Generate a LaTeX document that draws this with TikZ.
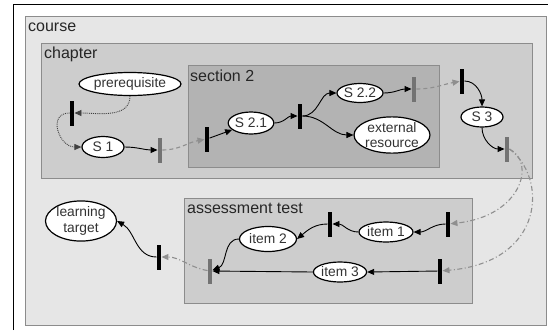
\documentclass[tikz,border=0pt]{standalone}
\usepackage{fontspec}
\setmainfont{Liberation Sans}
\usetikzlibrary{arrows.meta,shapes.geometric}
\definecolor{cframe}{HTML}{8C8C8C}
\definecolor{ccourse}{HTML}{E6E6E6}
\definecolor{cchap}{HTML}{CDCDCD}
\definecolor{csect}{HTML}{B3B3B3}
\definecolor{cgbar}{HTML}{737373}
\definecolor{cgline}{HTML}{8F8F8F}

\begin{document}
\begin{tikzpicture}[x=1pt,y=-1pt,
  area/.style={draw=cframe,line width=1pt},
  title/.style={anchor=base west,inner sep=0pt,font=\fontsize{16}{19}\selectfont,text=black!85},
  elem/.style={ellipse,draw,line width=1.2pt,fill=white,inner sep=0pt,align=center,
               font=\fontsize{13.8}{15.5}\selectfont,text=black!80},
  bar/.style={fill=black,inner sep=0pt,minimum width=4.5pt,minimum height=25pt},
  gbar/.style={bar,fill=cgbar},
  arr/.style={-{Triangle[length=7pt,width=6pt]},line width=0.9pt},
  dotarr/.style={arr,densely dotted,black!75},
  garr/.style={-{Triangle[length=7pt,width=6pt]},line width=1.1pt,cgline,
               dash pattern=on 4pt off 3pt},
  darr/.style={garr,dash pattern=on 5pt off 2.5pt on 1pt off 2.5pt}]
  \useasboundingbox (0,0) rectangle (551,330);
  \fill[white] (0,0) rectangle (551,330);
  \draw[line width=1pt] (13,330) -- (13,4) -- (548,4);

  % nested areas
  \draw[area,fill=ccourse] (25,16) rectangle (546,325);
  \draw[area,fill=cchap] (41,43) rectangle (532,178);
  \draw[area,fill=csect] (188,65) rectangle (439,167);
  \draw[area,fill=cchap] (184,198) rectangle (472,303);
  \node[title] (tcourse) at (28,31) {course};
  \node[title] (tchap) at (44,58) {chapter};
  \node[title] (tsect) at (190,81) {section 2};
  \node[title] (ttest) at (187,213) {assessment test};

  % learning objects
  \node[elem,minimum width=88pt,minimum height=23pt] (prereq) at (130,84) {prerequisite};
  \node[elem,minimum width=42pt,minimum height=21pt] (s1) at (103,147) {S 1};
  \node[elem,minimum width=42pt,minimum height=22pt] (s21) at (251,123) {S 2.1};
  \node[elem,minimum width=46pt,minimum height=19pt] (s22) at (360,93) {S 2.2};
  \node[elem,minimum width=70pt,minimum height=34pt] (extres) at (392,135) {external\\resource};
  \node[elem,minimum width=42pt,minimum height=20pt] (s3) at (482,117) {S 3};
  \node[elem,minimum width=71pt,minimum height=36pt] (target) at (81,221) {learning\\target};
  \node[elem,minimum width=57pt,minimum height=25pt] (item2) at (268,239) {item 2};
  \node[elem,minimum width=54pt,minimum height=20pt] (item1) at (386,232) {item 1};
  \node[elem,minimum width=50pt,minimum height=20pt] (item3) at (340,272) {item 3};

  % synchronisation bars
  \node[bar] (b0) at (72,113) {};
  \node[gbar] (g1) at (160,150) {};
  \node[bar] (b1) at (207,139) {};
  \node[bar] (b2) at (300,116) {};
  \node[gbar] (g2) at (414,89) {};
  \node[bar] (b3) at (462,81) {};
  \node[gbar] (g3) at (507,149) {};
  \node[bar] (b4) at (448,224) {};
  \node[bar] (b5) at (440,271) {};
  \node[bar] (b6) at (330,224) {};
  \node[gbar] (g4) at (210,271) {};
  \node[bar] (b7) at (159,257) {};

  % chapter flow
  \draw[dotarr] (prereq.south) to[out=-90,in=0] (b0);
  \draw[dotarr] (b0) to[out=180,in=180,looseness=1.6] (s1.west);
  \draw[arr] (s1.east) to[out=0,in=180] (g1);
  \draw[garr] (g1) to[out=0,in=190] (b1);
  \draw[arr] (b1) -- (s21);
  \draw[arr] (s21.east) to[out=0,in=180] (b2);
  \draw[arr] (b2) to[out=0,in=180] (s22.west);
  \draw[arr] (b2) to[out=0,in=180] (extres.west);
  \draw[arr] (s22.east) to[out=0,in=180] (g2);
  \draw[garr] (g2) to[out=0,in=190] (b3);
  \draw[arr] (b3) to[out=0,in=90] (s3.north);
  \draw[arr] (s3.south) to[out=-90,in=180] (g3);

  % assessment flow
  \draw[darr] (g3.east) .. controls (536,162) and (522,216) .. (b4);
  \draw[darr] (g3.east) .. controls (548,178) and (545,262) .. (b5);
  \draw[arr] (b4) to[out=180,in=0] (item1.east);
  \draw[arr] (item1.west) to[out=180,in=0] (b6);
  \draw[arr] (b6) to[out=180,in=40] (item2.east);
  \draw[arr] (b5) -- (item3.east);
  \draw[arr] (item3.west) -- (g4);
  \draw[arr] (item2.west) to[out=180,in=20] (g4);
  \draw[darr] (g4) to[out=170,in=0] (b7);
  \draw[arr] (b7) to[out=180,in=-30] (target.east);
\end{tikzpicture}
\end{document}
